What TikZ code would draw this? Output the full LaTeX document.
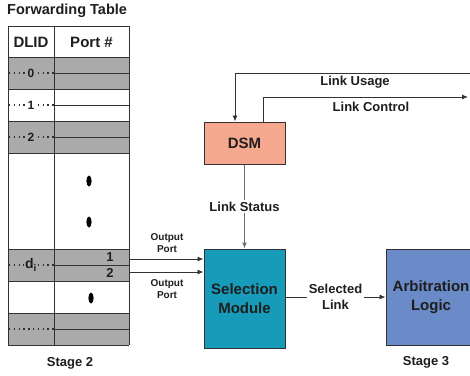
\documentclass[tikz,border=0pt]{standalone}
\usepackage{fontspec}
\setmainfont{Liberation Sans}
\usetikzlibrary{arrows.meta}
\definecolor{txt}{RGB}{30,30,30}
\definecolor{ln}{RGB}{50,50,50}
\definecolor{rowgray}{RGB}{170,170,170}
\definecolor{dsmfill}{RGB}{246,168,142}
\definecolor{selfill}{RGB}{22,155,185}
\definecolor{arbfill}{RGB}{106,138,200}
\definecolor{statusln}{RGB}{110,110,110}
\tikzset{
  lbl/.style={text=txt,font=\bfseries\fontsize{#1}{#1}\selectfont,inner sep=0pt},
  lbl/.default=13,
  tline/.style={draw=ln,line width=0.9pt},
  dline/.style={draw=ln,line width=1.3pt,dash pattern=on 1.3pt off 3.5pt},
  blockbox/.style={draw=ln,line width=1pt,text=txt,align=center,inner sep=0pt,
    font=\bfseries\fontsize{15}{18}\selectfont},
  conn/.style={draw=ln,line width=0.9pt,-{Latex[length=6pt,width=5pt]}},
  stline/.style={draw=statusln,line width=1.6pt,-{Latex[length=6pt,width=5pt]}},
  hole/.style={fill=white,inner sep=1.5pt,align=center}
}
\begin{document}
\begin{tikzpicture}[x=1pt,y=-1pt]
\path[use as bounding box] (0,0) rectangle (470,375);
\begin{scope}
\clip (0,0) rectangle (470,375);
\fill[white] (0,0) rectangle (470,375);
% title
\node[lbl=14.5,anchor=base west] (title) at (7,14) {Forwarding Table};
% table fills
\fill[rowgray] (8,57) rectangle (129,89);
\fill[rowgray] (8,121) rectangle (129,153);
\fill[rowgray] (8,249) rectangle (129,281);
\fill[rowgray] (8,313) rectangle (129,345);
% horizontal lines
\foreach \y in {26,57,89,121,153,249,281,313,345}
  \draw[tline] (8,\y) -- (129,\y);
\foreach \y in {73,105,137,265,329}{
  \draw[tline] (54,\y) -- (129,\y);
  \draw[dline] (9,\y) -- (54,\y);
}
% vertical lines
\foreach \x in {8,54,129}
  \draw[tline] (\x,26) -- (\x,345);
% header
\node[lbl=15] (hdlid) at (31,42) {DLID};
\node[lbl=15] (hport) at (91.5,42) {Port \#};
% row labels
\node[lbl=12,fill=rowgray,inner sep=1.5pt] (r0) at (31,73) {0};
\node[lbl=12,fill=white,inner sep=1.5pt] (r1) at (31,105) {1};
\node[lbl=12,fill=rowgray,inner sep=1.5pt] (r2) at (31,137) {2};
\node[lbl=14,fill=rowgray,inner sep=1.5pt] (rdi) at (31,265) {d\textsubscript{i}};
\node[lbl=13] (p1) at (110,257) {1};
\node[lbl=13] (p2) at (110,273) {2};
% ellipsis dots
\fill[black] (89,181) ellipse (2.6 and 5.5);
\fill[black] (89,222) ellipse (2.6 and 5.5);
\fill[black] (91,298) ellipse (2.6 and 5.5);
% stage labels
\node[lbl=13] (st2) at (70,363) {Stage 2};
\node[lbl=13] (st3) at (426,362) {Stage 3};
% blocks
\node[blockbox,fill=dsmfill,minimum width=81pt,minimum height=42pt] (dsm) at (244.5,143) {DSM};
\node[blockbox,fill=selfill,minimum width=81pt,minimum height=99pt] (sel) at (244.5,298.5) {Selection\\[1pt]Module};
\node[blockbox,fill=arbfill,minimum width=90pt,minimum height=96pt] (arb) at (431,297) {Arbitration\\[1pt]Logic};
% link status
\draw[stline] (dsm.south) -- node[hole,lbl=13,fill=white,inner sep=2pt] (ls) {Link Status} (sel.north);
% link usage / control
\coordinate (lu) at (470,73);
\coordinate (lc) at (468,97);
\draw[conn] (lu) -| ([xshift=-9.5pt]dsm.north);
\draw[conn] ([xshift=18.5pt]dsm.north) |- (lc);
\node[lbl=13] (lul) at (355,82) {Link Usage};
\node[lbl=13] (lcl) at (371,107) {Link Control};
% output ports
\coordinate (op1) at (129,259);
\coordinate (op2) at (129,272);
\draw[conn] (op1) -- (sel.west |- op1);
\draw[conn] (op2) -- (sel.west |- op2);
\node[lbl=10,align=center] (opl1) at (167,243.5) {Output\\[2pt]Port};
\node[lbl=10,align=center] (opl2) at (167,289.5) {Output\\[2pt]Port};
% selected link
\draw[conn] (sel.east |- arb.west) -- node[hole,lbl=13,fill=white,inner sep=2pt] (sl) {Selected\\[3pt]Link} (arb.west);
\end{scope}
\end{tikzpicture}
\end{document}
